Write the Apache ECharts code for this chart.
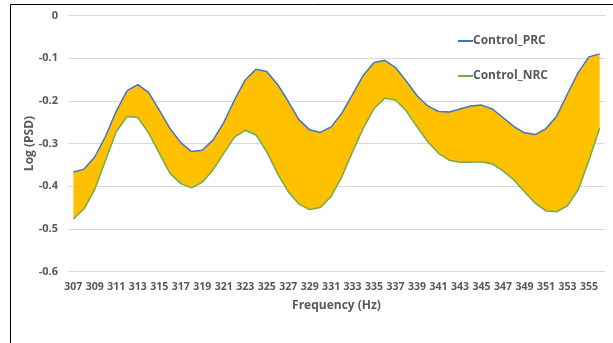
<!DOCTYPE html>
<html>
<head>
<meta charset="utf-8">
<style>
html,body{margin:0;padding:0;background:#fff;}
#chart{width:613px;height:343px;}
</style>
<script src="https://cdn.jsdelivr.net/npm/echarts@6/dist/echarts.min.js"></script>
</head>
<body>
<div id="chart"></div>
<script>
var frequencies = ['307','308','309','310','311','312','313','314','315','316','317','318','319','320','321','322','323','324','325','326','327','328','329','330','331','332','333','334','335','336','337','338','339','340','341','342','343','344','345','346','347','348','349','350','351','352','353','354','355','356'];
var controlPRC = [-0.367,-0.360,-0.331,-0.283,-0.224,-0.176,-0.162,-0.180,-0.222,-0.265,-0.298,-0.319,-0.316,-0.292,-0.251,-0.198,-0.151,-0.126,-0.131,-0.161,-0.201,-0.244,-0.268,-0.274,-0.261,-0.229,-0.185,-0.140,-0.110,-0.105,-0.122,-0.154,-0.188,-0.212,-0.225,-0.226,-0.219,-0.212,-0.210,-0.219,-0.239,-0.260,-0.275,-0.279,-0.265,-0.236,-0.184,-0.134,-0.097,-0.090];
var controlNRC = [-0.477,-0.453,-0.407,-0.339,-0.272,-0.237,-0.239,-0.275,-0.323,-0.370,-0.394,-0.404,-0.391,-0.362,-0.323,-0.285,-0.269,-0.280,-0.319,-0.370,-0.413,-0.442,-0.455,-0.450,-0.424,-0.378,-0.319,-0.264,-0.218,-0.194,-0.198,-0.224,-0.261,-0.296,-0.323,-0.339,-0.344,-0.344,-0.343,-0.348,-0.364,-0.385,-0.413,-0.440,-0.458,-0.460,-0.446,-0.409,-0.340,-0.264];
var yTicks = [0, -0.1, -0.2, -0.3, -0.4, -0.5, -0.6];

var bandWidth = controlPRC.map(function (v, i) { return +(v - controlNRC[i]).toFixed(4); });

var FONT = '"Open Sans", "Liberation Sans", sans-serif';
var TXT = '#595959';

var chart = echarts.init(document.getElementById('chart'), null, {renderer: 'canvas'});
chart.setOption({
  animation: false,
  backgroundColor: '#ffffff',
  textStyle: {fontFamily: FONT},
  graphic: [{
    type: 'rect',
    shape: {x: 10.5, y: 4.5, width: 800, height: 500},
    style: {fill: 'none', stroke: '#000000', lineWidth: 1},
    silent: true,
    z: 100
  }],
  grid: {left: 68, right: 8, top: 15.5, bottom: 71.5, containLabel: false},
  legend: {
    orient: 'vertical',
    left: 458,
    top: 35,
    padding: 0,
    itemWidth: 15,
    itemHeight: 2,
    itemGap: 23,
    icon: 'rect',
    data: ['Control_PRC', 'Control_NRC'],
    textStyle: {color: TXT, fontSize: 12, fontWeight: 'bold', fontFamily: FONT, padding: [0, 0, 0, -5]}
  },
  xAxis: {
    type: 'category',
    data: frequencies,
    boundaryGap: true,
    name: 'Frequency (Hz)',
    nameLocation: 'middle',
    nameGap: 28,
    nameTextStyle: {color: TXT, fontSize: 12, fontWeight: 'bold', fontFamily: FONT},
    axisLine: {show: true, lineStyle: {color: '#D9D9D9', width: 1}},
    axisTick: {show: false},
    axisLabel: {interval: 1, color: TXT, fontSize: 10.5, fontWeight: 'bold', fontFamily: FONT, margin: 10},
    splitLine: {show: false}
  },
  yAxis: {
    type: 'value',
    min: -0.6,
    max: 0,
    interval: 0.1,
    name: 'Log (PSD)',
    nameLocation: 'middle',
    nameGap: 32,
    nameMoveOverlap: false,
    nameRotate: 90,
    nameTextStyle: {color: TXT, fontSize: 12, fontWeight: 'bold', fontFamily: FONT},
    axisLine: {show: false},
    axisTick: {show: false},
    axisLabel: {
      color: TXT, fontSize: 11, fontWeight: 'bold', fontFamily: FONT, margin: 10,
      formatter: function (v) {
        var r = Math.round(v * 10) / 10;
        for (var i = 0; i < yTicks.length; i++) { if (Math.abs(yTicks[i] - r) < 1e-9) return r === 0 ? '0' : r.toFixed(1); }
        return '';
      }
    },
    splitLine: {show: true, lineStyle: {color: '#D9D9D9', width: 1}}
  },
  series: [
    {
      name: 'base',
      type: 'line',
      data: controlNRC,
      stack: 'band',
      stackStrategy: 'all',
      symbol: 'none',
      lineStyle: {opacity: 0},
      silent: true,
      z: 1
    },
    {
      name: 'band',
      type: 'line',
      data: bandWidth,
      stack: 'band',
      stackStrategy: 'all',
      symbol: 'none',
      lineStyle: {opacity: 0},
      areaStyle: {color: '#FFC000', opacity: 1},
      silent: true,
      z: 1
    },
    {
      name: 'Control_PRC',
      type: 'line',
      data: controlPRC,
      symbol: 'none',
      itemStyle: {color: '#4472C4'},
      lineStyle: {color: '#4472C4', width: 1.5},
      z: 3
    },
    {
      name: 'Control_NRC',
      type: 'line',
      data: controlNRC,
      symbol: 'none',
      itemStyle: {color: '#70AD47'},
      lineStyle: {color: '#70AD47', width: 1.5},
      z: 3
    }
  ]
});
</script>
</body>
</html>
